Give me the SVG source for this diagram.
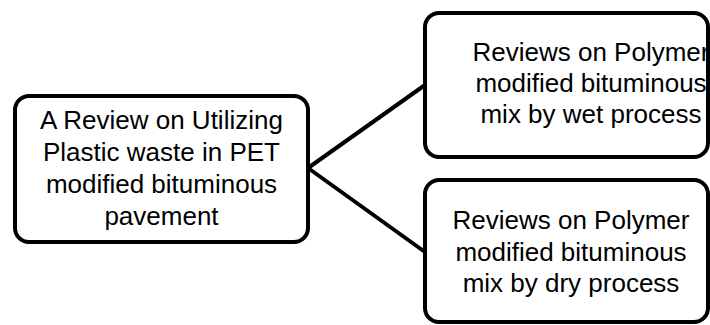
<svg xmlns="http://www.w3.org/2000/svg" width="710" height="325" viewBox="0 0 710 325">
<style>
.box{fill:#fff;stroke:#000;stroke-width:4}
.conn{fill:none;stroke:#000;stroke-width:4}
.t{font-family:"Liberation Sans",Arial,sans-serif;font-size:26px;fill:#000;text-anchor:middle}
</style>
<rect width="710" height="325" fill="#fff"/>
<g id="connectors">
<line class="conn" x1="308" y1="168" x2="425" y2="85"/>
<line class="conn" x1="308" y1="168" x2="425" y2="252"/>
</g>
<g id="root">
<rect class="box" x="15" y="96" width="293" height="146" rx="14"/>
<text class="t" x="161.5" y="129">A Review on Utilizing</text>
<text class="t" x="161.5" y="161">Plastic waste in PET</text>
<text class="t" x="161.5" y="193">modified bituminous</text>
<text class="t" x="161.5" y="225">pavement</text>
</g>
<g id="wet">
<rect class="box" x="425" y="13" width="283" height="144" rx="14"/>
<text class="t" x="591" y="61">Reviews on Polymer</text>
<text class="t" x="591" y="92">modified bituminous</text>
<text class="t" x="591" y="123">mix by wet process</text>
</g>
<g id="dry">
<rect class="box" x="425" y="180" width="283" height="142" rx="14"/>
<text class="t" x="571" y="229">Reviews on Polymer</text>
<text class="t" x="571" y="261">modified bituminous</text>
<text class="t" x="571" y="292">mix by dry process</text>
</g>
</svg>
